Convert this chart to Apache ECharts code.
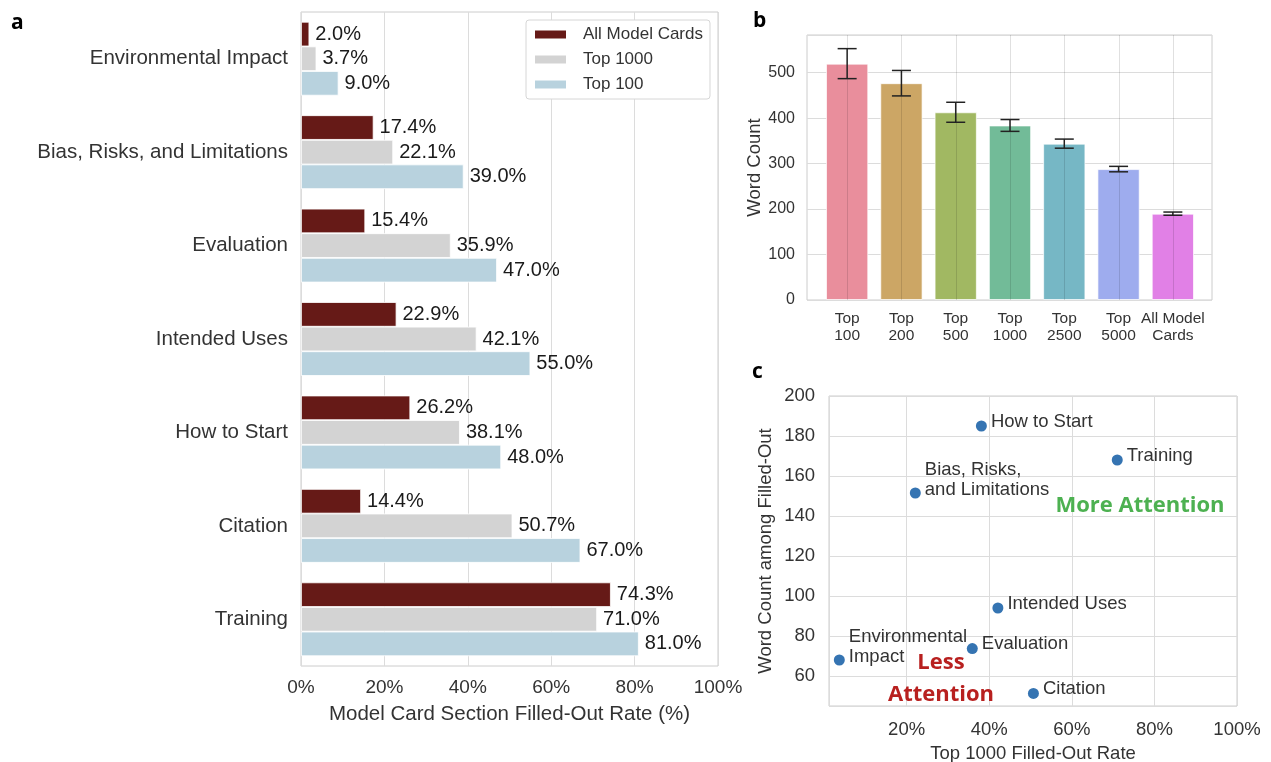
<!DOCTYPE html>
<html>
<head>
<meta charset="utf-8">
<script src="https://cdn.jsdelivr.net/npm/echarts@6/dist/echarts.min.js"></script>
<style>html,body{margin:0;padding:0;background:#fff;}#main{width:1271px;height:762px;}</style>
</head>
<body>
<div id="main"></div>
<script>
// ---------- Panel a data ----------
const sectionsA = ['Environmental Impact','Bias, Risks, and Limitations','Evaluation','Intended Uses','How to Start','Citation','Training'];
const rateAllCards = [2.0, 17.4, 15.4, 22.9, 26.2, 14.4, 74.3];
const rateTop1000 = [3.7, 22.1, 35.9, 42.1, 38.1, 50.7, 71.0];
const rateTop100 = [9.0, 39.0, 47.0, 55.0, 48.0, 67.0, 81.0];

// ---------- Panel b data ----------
const groupsB = ['Top\n100','Top\n200','Top\n500','Top\n1000','Top\n2500','Top\n5000','All Model\nCards'];
const wordCount = [520, 477, 413, 384, 344, 288, 190];
const wordCountErr = [33, 28, 22, 13, 10, 6, 3.5];

// ---------- Panel c data ----------
const sectionsC = ['Environmental\nImpact','Bias, Risks,\nand Limitations','Evaluation','Intended Uses','How to Start','Citation','Training'];
const top1000RateC = [3.7, 22.1, 35.9, 42.1, 38.1, 50.7, 71.0];
const wordsAmongFilled = [68, 151.5, 73.7, 94, 185, 51.3, 168];

// ---------- styles ----------
const FONT = 'Liberation Sans, Arial, sans-serif';
const colorsA = {all:'#661a17', t1000:'#d3d3d3', t100:'#b8d2de'};
const colorsB = ['#e98e9c','#cca665','#a1b862','#72bb98','#76b7c5','#9eacee','#e180e6'];
const GRIDC = '#dcdcdc';
const BORDER = '#cccccc';
const B_YMAX = 583;

const chart = echarts.init(document.getElementById('main'), null, {renderer:'canvas'});

function barA(name, data, color) {
  return {
    type:'bar', name, data, xAxisIndex:0, yAxisIndex:0,
    barGap:'0%', barCategoryGap:'21%',
    itemStyle:{color, borderColor:'#ffffff', borderWidth:0.8},
    label:{show:true, position:'right', distance:6, formatter:p=>p.value.toFixed(1)+'%',
      fontFamily:FONT, fontSize:20, color:'#1a1a1a'},
    emphasis:{disabled:true}
  };
}

const option = {
  animation:false,
  backgroundColor:'#ffffff',
  textStyle:{fontFamily:FONT},
  grid:[
    {left:301, top:12, width:417, height:654, show:true, borderColor:BORDER, borderWidth:1, outerBoundsMode:'none', containLabel:false},
    {left:807, top:35, width:405, height:265, show:true, borderColor:BORDER, borderWidth:1, outerBoundsMode:'none', containLabel:false},
    {left:820, top:35, width:380, height:265, show:false, outerBoundsMode:'none', containLabel:false},
    {left:829, top:396, width:408, height:310, show:true, borderColor:BORDER, borderWidth:1, outerBoundsMode:'none', containLabel:false}
  ],
  legend:{
    data:['All Model Cards','Top 1000','Top 100'],
    orient:'vertical', left:526, top:20,
    itemWidth:33, itemHeight:10, itemGap:8, icon:'rect',
    padding:[6,7,6,7],
    backgroundColor:'#ffffff', borderColor:'#d6d6d6', borderWidth:1, borderRadius:3,
    textStyle:{fontFamily:FONT, fontSize:17, color:'#333', padding:[0,0,0,11]}
  },
  xAxis:[
    {gridIndex:0, type:'value', min:0, max:100, interval:20,
      axisLine:{show:false}, axisTick:{show:false},
      axisLabel:{formatter:v=>v+'%', fontFamily:FONT, fontSize:19, color:'#333', margin:12},
      splitLine:{show:true, lineStyle:{color:GRIDC, width:1}},
      name:'Model Card Section Filled-Out Rate (%)', nameLocation:'middle', nameGap:38,
      nameTextStyle:{fontFamily:FONT, fontSize:20.5, color:'#333'}},
    {gridIndex:1, type:'value', min:0, max:1, show:false},
    {gridIndex:2, type:'category', data:groupsB,
      axisLine:{show:false}, axisTick:{show:false},
      axisLabel:{interval:0, fontFamily:FONT, fontSize:15.5, color:'#333', lineHeight:17, margin:10},
      splitLine:{show:false}},
    {gridIndex:3, type:'value', min:1.2, max:100, splitNumber:5,
      axisLine:{show:false}, axisTick:{show:false},
      axisLabel:{formatter:v=>v+'%', showMinLabel:false, fontFamily:FONT, fontSize:18.5, color:'#333', margin:14},
      splitLine:{show:true, lineStyle:{color:GRIDC, width:1}},
      name:'Top 1000 Filled-Out Rate', nameLocation:'middle', nameGap:38,
      nameTextStyle:{fontFamily:FONT, fontSize:18.5, color:'#333'}}
  ],
  yAxis:[
    {gridIndex:0, type:'category', data:sectionsA, inverse:true,
      axisLine:{show:false}, axisTick:{show:false},
      axisLabel:{fontFamily:FONT, fontSize:20.5, color:'#333', margin:13},
      splitLine:{show:false}},
    {gridIndex:1, type:'value', min:0, max:B_YMAX, interval:100,
      axisLine:{show:false}, axisTick:{show:false},
      axisLabel:{showMaxLabel:false, fontFamily:FONT, fontSize:16, color:'#333', margin:12},
      splitLine:{show:true, lineStyle:{color:GRIDC, width:1}},
      name:'Word Count', nameLocation:'middle', nameGap:43, nameRotate:90,
      nameTextStyle:{fontFamily:FONT, fontSize:18.5, color:'#333'}},
    {gridIndex:2, type:'value', min:0, max:B_YMAX, show:false},
    {gridIndex:3, type:'value', min:45, max:200, splitNumber:8,
      axisLine:{show:false}, axisTick:{show:false},
      axisLabel:{showMinLabel:false, fontFamily:FONT, fontSize:18.5, color:'#333', margin:14},
      splitLine:{show:true, lineStyle:{color:GRIDC, width:1}},
      name:'Word Count among Filled-Out', nameLocation:'middle', nameGap:54, nameRotate:90,
      nameTextStyle:{fontFamily:FONT, fontSize:18.5, color:'#333'}}
  ],
  series:[
    barA('All Model Cards', rateAllCards, colorsA.all),
    barA('Top 1000', rateTop1000, colorsA.t1000),
    barA('Top 100', rateTop100, colorsA.t100),
    // panel b bars
    {type:'bar', name:'wc', xAxisIndex:2, yAxisIndex:2, barWidth:42.3,
      data:wordCount.map((v,i)=>({value:v, itemStyle:{color:colorsB[i]}})),
      itemStyle:{borderColor:'rgba(255,255,255,0.7)', borderWidth:1},
      emphasis:{disabled:true}, z:2},
    // panel b vertical gridlines at category centres
    {type:'custom', name:'vgrid', xAxisIndex:2, yAxisIndex:2, z:3, silent:true,
      data:groupsB.map((g,i)=>[i, 0]),
      renderItem:(params, api)=>{
        const cs = params.coordSys;
        const x = Math.round(api.coord([api.value(0), 0])[0]) + 0.5;
        return {type:'line', shape:{x1:x, y1:cs.y, x2:x, y2:cs.y+cs.height},
          style:{stroke:'rgba(0,0,0,0.12)', lineWidth:1}};
      }},
    // panel b error bars
    {type:'custom', name:'err', xAxisIndex:2, yAxisIndex:2, z:4, silent:true,
      data:wordCount.map((v,i)=>[i, v - wordCountErr[i], v + wordCountErr[i]]),
      renderItem:(params, api)=>{
        const lo = api.coord([api.value(0), api.value(1)]);
        const hi = api.coord([api.value(0), api.value(2)]);
        const hw = 9.5;
        const st = {stroke:'#222', lineWidth:1.5};
        return {type:'group', children:[
          {type:'line', shape:{x1:lo[0], y1:lo[1], x2:hi[0], y2:hi[1]}, style:st},
          {type:'line', shape:{x1:lo[0]-hw, y1:lo[1], x2:lo[0]+hw, y2:lo[1]}, style:st},
          {type:'line', shape:{x1:hi[0]-hw, y1:hi[1], x2:hi[0]+hw, y2:hi[1]}, style:st}
        ]};
      }},
    // panel c scatter
    {type:'scatter', name:'sc', xAxisIndex:3, yAxisIndex:3, symbolSize:11,
      itemStyle:{color:'#3574b2', opacity:1},
      data:sectionsC.map((s,i)=>({name:s, value:[top1000RateC[i], wordsAmongFilled[i]],
        label:{offset: s.indexOf('\n')>=0 ? [0,-13.5] : [0,-4.5]}})),
      label:{show:true, position:'right', distance:4, formatter:p=>p.name,
        fontFamily:FONT, fontSize:18.5, color:'#333', lineHeight:20},
      emphasis:{disabled:true}, z:5}
  ],
  graphic:[
    {type:'text', left:11, top:13, z:100, style:{text:'a', font:'bold 21px "Open Sans", sans-serif', fill:'#000'}},
    {type:'text', left:753, top:11, z:100, style:{text:'b', font:'bold 21px "Open Sans", sans-serif', fill:'#000'}},
    {type:'text', left:752, top:362, z:100, style:{text:'c', font:'bold 21px "Open Sans", sans-serif', fill:'#000'}},
    {type:'text', x:1140, y:506, z:100, style:{text:'More Attention', font:'bold 22px "Open Sans", sans-serif', fill:'#4db151', align:'center', verticalAlign:'middle'}},
    {type:'text', x:941, y:663, z:100, style:{text:'Less', font:'bold 22px "Open Sans", sans-serif', fill:'#b8201f', align:'center', verticalAlign:'middle'}},
    {type:'text', x:941, y:695, z:100, style:{text:'Attention', font:'bold 22px "Open Sans", sans-serif', fill:'#b8201f', align:'center', verticalAlign:'middle'}}
  ]
};
chart.setOption(option);
</script>
</body>
</html>
